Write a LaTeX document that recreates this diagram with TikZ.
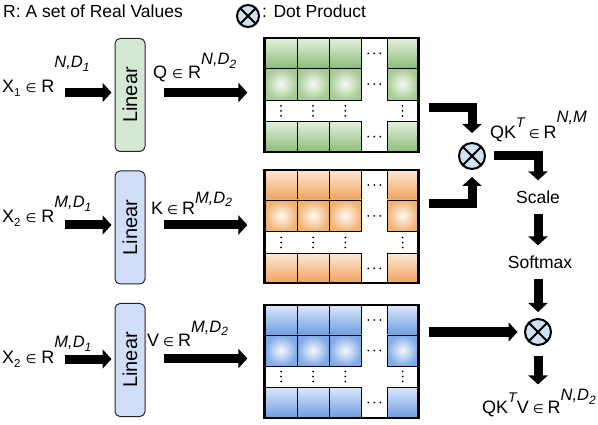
\documentclass[tikz,border=0pt]{standalone}
\usepackage{fontspec}
\setmainfont{Liberation Sans}
\newfontfamily\djv{DejaVu Sans}
\usetikzlibrary{arrows.meta,calc}
\definecolor{gL}{HTML}{E3F0DB}\definecolor{gD}{HTML}{8DBB7B}\definecolor{gO}{HTML}{A6CB95}
\definecolor{oL}{HTML}{FDE8D3}\definecolor{oD}{HTML}{EEA35C}\definecolor{oO}{HTML}{F1B274}
\definecolor{bL}{HTML}{DCE8FA}\definecolor{bD}{HTML}{6C9DE2}\definecolor{bO}{HTML}{7EAAE6}
\definecolor{linG}{HTML}{D5E8D4}\definecolor{linB}{HTML}{D0DFF8}
\definecolor{dotc}{HTML}{CFE2F3}
\newcommand{\inR}[1]{\hspace{#1}{\djv\fontsize{12.5}{12.5}\selectfont ∈}\hspace{#1}R}
\newcommand{\supr}[3]{\raisebox{#1}{\fontsize{16.5}{16.5}\selectfont\itshape #2\raisebox{-4pt}{\fontsize{12}{12}\selectfont #3}}}
\newcommand{\subx}[1]{\raisebox{-4pt}{\fontsize{11.5}{11.5}\selectfont #1}}
\newcommand{\supT}[1]{\raisebox{#1}{\fontsize{14}{14}\selectfont\itshape T}}
\newcommand{\mblock}[8]{%
  \foreach \xa/\xb in {265/297,297/329,329/361.5,387/418}{
    \shadedraw[cellb, top color=#1, bottom color=#2] (\xa,#4) rectangle (\xb,#5);
    \shadedraw[cellb, inner color=white!75!#1, outer color=#3] (\xa,#5) rectangle (\xb,#6);
    \shadedraw[cellb, top color=#1, bottom color=#2] (\xa,#7) rectangle (\xb,#8);
    \foreach \k in {-5,0,5} \fill ({(\xa+\xb)/2},{(#6+#7)/2+\k}) circle (1pt);
  }
  \foreach \yy in {(#4+#5)/2,(#5+#6)/2,(#7+#8)/2}
    \foreach \k in {-6,0,6} \fill ({374.25+\k},{\yy}) circle (1pt);
}
\tikzset{
  fat/.style={line width=9pt, -{Triangle[length=9pt,width=19pt]}, line join=miter},
  cellb/.style={draw=black, line width=0.9pt},
  frame/.style={draw=black, line width=2.2pt, inner sep=0pt, minimum width=154pt},
  linbox/.style={draw=black!85, line width=1pt, rounded corners=5pt, minimum width=30pt,
    minimum height=113pt, inner sep=0pt, font=\fontsize{20}{20}\selectfont},
  dotp/.style={circle, draw=black, line width=2pt, fill=dotc, inner sep=0pt,
    path picture={\draw[line width=2pt] (path picture bounding box.north west)--(path picture bounding box.south east)
      (path picture bounding box.north east)--(path picture bounding box.south west);}},
  lab/.style={anchor=base west, inner sep=0pt, font=\fontsize{18}{18}\selectfont},
  leg/.style={anchor=base west, inner sep=0pt, font=\fontsize{17.5}{17.5}\selectfont},
  txt/.style={inner sep=0pt, font=\fontsize{17.5}{17.5}\selectfont},
}
\begin{document}
\begin{tikzpicture}[x=1pt,y=-1pt]
\useasboundingbox (0,0) rectangle (598,425);
% legend
\node[leg] (leg1) at (3,18) {R: A set of Real Values};
\node[dotp, minimum size=22pt] (legc) at (248,16) {};
\node[leg] (leg2) at (262,18) {: Dot Product};
% linear boxes
\node[linbox, fill=linG] (l1) at (130,95) {\rotatebox{90}{Linear}};
\node[linbox, fill=linB] (l2) at (130,227.5) {\rotatebox{90}{Linear}};
\node[linbox, fill=linB] (l3) at (130,360) {\rotatebox{90}{Linear}};
% matrices
\mblock{gL}{gD}{gO}{38.3}{68.3}{100}{121.7}{151.7}
\node[frame, minimum height=113.4pt] (qm) at (341.5,95) {};
\mblock{oL}{oD}{oO}{170}{200}{231.7}{253.3}{283.3}
\node[frame, minimum height=113.3pt] (km) at (341.5,226.65) {};
\mblock{bL}{bD}{bO}{305}{335}{366}{387}{418}
\node[frame, minimum height=113pt] (vm) at (341.5,361.5) {};
% labels
\node[lab] (x1) at (2,93) {X\subx{1}\inR{5pt}\supr{25pt}{N,D}{1}};
\node[lab] (x2) at (2,223) {X\subx{2}\inR{5pt}\supr{15pt}{M,D}{1}};
\node[lab] (x3) at (2,363) {X\subx{2}\inR{5pt}\supr{16pt}{M,D}{1}};
\node[lab] (ql) at (153,79) {Q\inR{5pt}\supr{14pt}{N,D}{2}};
\node[lab] (kl) at (151,215) {K\inR{4pt}\supr{12pt}{M,D}{2}};
\node[lab] (vl) at (147,347) {V\inR{4pt}\supr{15pt}{M,D}{2}};
% right side
\node[dotp, minimum size=26pt] (c1) at (472,156) {};
\node[lab] (qkl) at (490,139) {QK\supT{11pt}\inR{4pt}\supr{16pt}{N,M}{}};
\node[txt] (scale) at (538,197) {Scale};
\node[txt] (soft) at (540,262) {Softmax};
\node[dotp, minimum size=26pt] (c2) at (538,332) {};
\node[lab] (out) at (482,413) {QK\supT{10pt}V\inR{4pt}\supr{13pt}{N,D}{2}};
% input arrows
\coordinate (a1) at (65,92.5);
\coordinate (a2) at (65,225);
\coordinate (a3) at (65,359);
\draw[fat, shorten >=3pt] (a1) -- (a1 -| l1.west);
\draw[fat, shorten >=3pt] (a2) -- (a2 -| l2.west);
\draw[fat, shorten >=3pt] (a3) -- (a3 -| l3.west);
% linear -> matrices
\draw[fat] ([xshift=18pt,yshift=2.5pt]l1.east) -- ([xshift=-16pt,yshift=2.5pt]l1.east -| qm.west);
\draw[fat] ([xshift=18pt,yshift=2.5pt]l2.east) -- ([xshift=-16pt,yshift=2.5pt]l2.east -| km.west);
\draw[fat] ([xshift=18pt,yshift=1.5pt]l3.east) -- ([xshift=-16pt,yshift=1.5pt]l3.east -| vm.west);
% to dot product
\draw[fat] ([xshift=9pt,yshift=-13pt]qm.east) -| ([yshift=9pt]c1.north);
\draw[fat] ([xshift=9pt,yshift=23.5pt]km.east) -| ([yshift=-7pt]c1.south);
\draw[fat, shorten >=10pt] ([xshift=8pt]c1.east) -| (scale.north);
\draw[fat, shorten >=10pt] ([yshift=-10pt]scale.south) -- (scale.south |- soft.north);
\draw[fat, shorten >=6pt] ([yshift=-10pt]soft.south -| c2.north) -- (c2.north);
\draw[fat, shorten >=6.5pt] ([xshift=9pt,yshift=29.5pt]vm.east) -- (c2.west);
\draw[fat, shorten >=4pt] ([yshift=-9.5pt]c2.south) -- (c2.south |- out.north);
\end{tikzpicture}
\end{document}
